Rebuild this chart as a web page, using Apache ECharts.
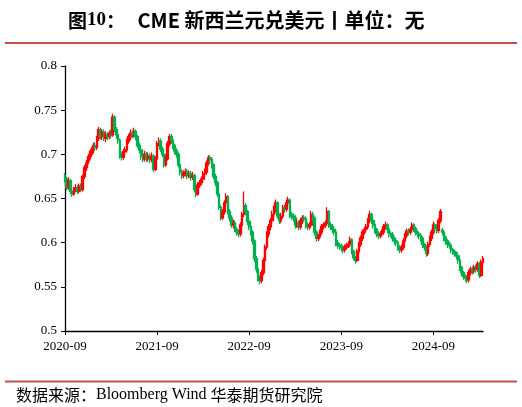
<!DOCTYPE html>
<html>
<head>
<meta charset="utf-8">
<script src="https://cdn.jsdelivr.net/npm/echarts@6/dist/echarts.min.js"></script>
<style>
html,body{margin:0;padding:0;background:#fff;}
#c{width:522px;height:407px;}
</style>
</head>
<body>
<div id="c"></div>
<script>
// Weekly candles, first week starting 2020-09-07
var startDate = '2020-09-07';
var tickLabels = ['2020-09', '2021-09', '2022-09', '2023-09', '2024-09'];
var tickStep = 52;
var yTicks = { min: 0.5, max: 0.8, step: 0.05 };
// [open, close, low, high]
var ohlc = [
[.676,.672,.668,.679],[.672,.662,.659,.675],[.662,.670,.660,.674],[.670,.658,.655,.672],[.658,.655,.652,.661],
[.655,.660,.653,.663],[.660,.662,.657,.666],[.662,.658,.655,.665],[.658,.664,.656,.667],[.664,.660,.657,.667],
[.660,.675,.658,.677],[.675,.685,.672,.688],[.685,.690,.681,.694],[.690,.695,.687,.698],[.695,.700,.692,.704],
[.700,.705,.697,.708],[.705,.710,.701,.713],[.710,.708,.704,.714],[.708,.718,.705,.721],[.718,.728,.715,.731],
[.728,.720,.717,.730],[.720,.725,.716,.728],[.725,.718,.715,.728],[.718,.722,.714,.726],[.722,.720,.716,.725],
[.720,.724,.717,.727],[.724,.722,.718,.728],[.722,.742,.720,.746],[.742,.728,.725,.744],[.728,.722,.718,.731],
[.722,.716,.712,.725],[.716,.698,.695,.718],[.698,.697,.693,.702],[.697,.703,.694,.706],[.703,.705,.700,.709],
[.705,.715,.702,.718],[.715,.720,.712,.723],[.720,.724,.716,.728],[.724,.722,.718,.727],[.722,.726,.719,.730],
[.726,.720,.716,.728],[.720,.710,.707,.722],[.710,.705,.701,.713],[.705,.698,.694,.707],[.698,.695,.691,.701],
[.695,.700,.692,.704],[.700,.695,.691,.703],[.695,.698,.692,.702],[.698,.694,.690,.701],[.694,.698,.691,.702],
[.698,.683,.680,.700],[.683,.695,.681,.698],[.695,.712,.693,.715],[.712,.715,.709,.719],[.715,.706,.703,.718],
[.706,.700,.697,.709],[.700,.688,.685,.702],[.688,.695,.686,.698],[.695,.712,.693,.715],[.712,.720,.709,.723],
[.720,.716,.712,.723],[.716,.710,.706,.718],[.710,.704,.700,.712],[.704,.700,.696,.707],[.700,.688,.685,.702],
[.688,.680,.676,.690],[.680,.676,.672,.683],[.676,.678,.673,.682],[.678,.680,.675,.684],[.680,.676,.672,.683],
[.676,.678,.673,.682],[.678,.674,.670,.681],[.674,.676,.671,.680],[.676,.660,.657,.678],[.660,.655,.651,.663],
[.655,.665,.653,.668],[.665,.668,.662,.671],[.668,.672,.665,.675],[.672,.678,.669,.681],[.678,.680,.675,.684],
[.680,.690,.677,.693],[.690,.696,.687,.699],[.696,.694,.690,.699],[.694,.688,.684,.697],[.688,.675,.672,.690],
[.675,.668,.664,.678],[.668,.655,.652,.670],[.655,.640,.637,.657],[.640,.628,.625,.643],[.628,.635,.626,.638],
[.635,.645,.632,.648],[.645,.652,.642,.656],[.652,.635,.632,.654],[.635,.628,.624,.638],[.628,.620,.617,.631],
[.620,.622,.616,.626],[.622,.615,.612,.625],[.615,.612,.608,.618],[.612,.610,.606,.615],[.610,.620,.607,.623],
[.620,.632,.617,.635],[.632,.642,.629,.658],[.642,.635,.631,.645],[.635,.624,.620,.637],[.624,.618,.614,.627],
[.618,.612,.608,.621],[.612,.602,.598,.614],[.602,.582,.578,.604],[.582,.570,.566,.585],[.570,.560,.556,.573],
[.560,.557,.553,.563],[.557,.566,.554,.569],[.566,.580,.563,.583],[.580,.595,.577,.598],[.595,.610,.592,.613],
[.610,.618,.606,.621],[.618,.625,.614,.628],[.625,.632,.621,.636],[.632,.638,.628,.642],[.638,.645,.634,.649],
[.645,.630,.627,.647],[.630,.625,.621,.633],[.625,.630,.622,.634],[.630,.640,.627,.643],[.640,.638,.634,.643],
[.638,.645,.635,.649],[.645,.648,.641,.652],[.648,.632,.628,.650],[.632,.630,.626,.635],[.630,.628,.624,.633],
[.628,.620,.616,.631],[.620,.622,.617,.626],[.622,.618,.614,.625],[.618,.625,.615,.628],[.625,.628,.621,.631],
[.628,.627,.623,.631],[.627,.620,.616,.630],[.620,.618,.614,.623],[.618,.620,.615,.623],[.620,.632,.617,.636],
[.632,.628,.624,.635],[.628,.612,.608,.630],[.612,.605,.601,.614],[.605,.607,.602,.610],[.607,.612,.604,.615],
[.612,.618,.609,.621],[.618,.620,.615,.623],[.620,.622,.617,.625],[.622,.635,.619,.640],[.635,.620,.617,.637],
[.620,.618,.614,.623],[.618,.615,.611,.621],[.615,.612,.608,.618],[.612,.600,.596,.614],[.600,.597,.593,.603],
[.597,.596,.592,.600],[.596,.594,.590,.599],[.594,.592,.588,.597],[.592,.595,.589,.598],[.595,.597,.592,.600],
[.597,.598,.594,.602],[.598,.603,.595,.607],[.603,.590,.587,.605],[.590,.583,.580,.592],[.583,.580,.576,.585],
[.580,.590,.578,.593],[.590,.598,.587,.601],[.598,.605,.595,.608],[.605,.612,.602,.615],[.612,.615,.609,.618],
[.615,.618,.612,.621],[.618,.625,.615,.628],[.625,.632,.622,.636],[.632,.625,.621,.634],[.625,.620,.616,.627],
[.620,.615,.611,.622],[.615,.610,.606,.617],[.610,.608,.604,.613],[.608,.610,.605,.613],[.610,.612,.607,.615],
[.612,.618,.609,.621],[.618,.620,.615,.624],[.620,.615,.611,.622],[.615,.610,.606,.617],[.610,.609,.606,.613],
[.609,.605,.601,.612],[.605,.602,.598,.607],[.602,.600,.596,.604],[.600,.595,.591,.602],[.595,.592,.588,.597],
[.592,.595,.589,.598],[.595,.602,.592,.605],[.602,.608,.599,.611],[.608,.613,.605,.616],[.613,.612,.608,.616],
[.612,.615,.609,.618],[.615,.620,.612,.623],[.620,.616,.612,.622],[.616,.612,.608,.618],[.612,.610,.606,.614],
[.610,.608,.604,.612],[.608,.605,.601,.610],[.605,.598,.594,.607],[.598,.595,.591,.600],[.595,.588,.584,.597],
[.588,.598,.585,.601],[.598,.605,.595,.608],[.605,.612,.602,.615],[.612,.620,.609,.624],[.620,.616,.612,.622],
[.616,.614,.610,.618],[.614,.625,.611,.628],[.625,.635,.622,.638],[.614,.612,.608,.617],[.612,.606,.602,.614],
[.606,.602,.598,.608],[.602,.598,.594,.604],[.598,.597,.593,.601],[.597,.592,.588,.599],[.592,.590,.586,.594],
[.590,.588,.584,.592],[.588,.585,.581,.590],[.585,.580,.576,.587],[.580,.572,.568,.582],[.572,.566,.562,.574],
[.566,.562,.558,.568],[.562,.560,.556,.564],[.560,.558,.554,.562],[.558,.566,.555,.569],[.566,.570,.563,.573],
[.570,.568,.564,.573],[.568,.572,.565,.575],[.572,.570,.566,.575],[.570,.576,.567,.579],[.576,.563,.560,.578],
[.563,.578,.561,.581],[.578,.582,.575,.585]
];

var categories = [];
(function () {
  var d = new Date(startDate + 'T00:00:00Z');
  for (var i = 0; i < ohlc.length; i++) {
    categories.push(d.toISOString().slice(0, 10));
    d = new Date(d.getTime() + 7 * 86400000);
  }
})();

var serif = '"Liberation Serif","Times New Roman",serif';
var cjk = '"Noto Sans CJK SC","Noto Sans",sans-serif';

var chart = echarts.init(document.getElementById('c'), null, { renderer: 'canvas' });
chart.setOption({
  animation: false,
  backgroundColor: '#fff',
  grid: { left: 65, right: 39, top: 66, bottom: 76, containLabel: false },
  title: {
    left: 63, top: 3,
    text: '{a|图}{b|10}{a|：}{c|  }{d|CME 新西兰元兑美元丨单位：无}',
    textStyle: {
      rich: {
        a: { fontFamily: cjk, fontWeight: 'bold', fontSize: 19, color: '#000' },
        b: { fontFamily: serif, fontWeight: 'bold', fontSize: 19, color: '#000' },
        c: { fontFamily: serif, fontSize: 25 },
        d: { fontFamily: cjk, fontWeight: 'bold', fontSize: 20, color: '#000' }
      }
    }
  },
  graphic: [
    { type: 'line', shape: { x1: 5, y1: 43, x2: 517, y2: 43 }, style: { stroke: '#c0504d', lineWidth: 2 } },
    { type: 'line', shape: { x1: 5, y1: 381.5, x2: 517, y2: 381.5 }, style: { stroke: '#c0504d', lineWidth: 2 } },
    {
      type: 'text', left: 16, top: 387,
      style: {
        text: '{a|数据来源：}{b|Bloomberg Wind }{a|华泰期货研究院}',
        rich: {
          a: { fontFamily: cjk, fontSize: 16, fill: '#000' },
          b: { fontFamily: serif, fontSize: 16, fill: '#000' }
        }
      }
    }
  ],
  xAxis: {
    type: 'category',
    data: categories,
    boundaryGap: false,
    axisLine: { lineStyle: { color: '#000', width: 1.3 } },
    axisTick: { show: true, interval: tickStep - 1, length: 4, lineStyle: { color: '#000' } },
    axisLabel: {
      interval: tickStep - 1, margin: 9, color: '#000', fontFamily: serif, fontSize: 13,
      formatter: function (v, idx) { var k = idx / tickStep; return tickLabels[k] || ''; }
    },
    splitLine: { show: false }
  },
  yAxis: {
    type: 'value',
    min: yTicks.min, max: yTicks.max, interval: yTicks.step,
    axisLine: { show: true, lineStyle: { color: '#000', width: 1.3 } },
    axisTick: { show: true, length: 4, lineStyle: { color: '#000' } },
    axisLabel: {
      margin: 8, color: '#000', fontFamily: serif, fontSize: 13,
      formatter: function (v) { return String(+v.toFixed(2)); }
    },
    splitLine: { show: false }
  },
  series: [{
    type: 'candlestick',
    data: ohlc,
    barWidth: 2.2,
    itemStyle: {
      color: '#ff0000', color0: '#00b050',
      borderColor: '#ff0000', borderColor0: '#00b050', borderWidth: 1.3
    }
  }]
});
</script>
</body>
</html>
